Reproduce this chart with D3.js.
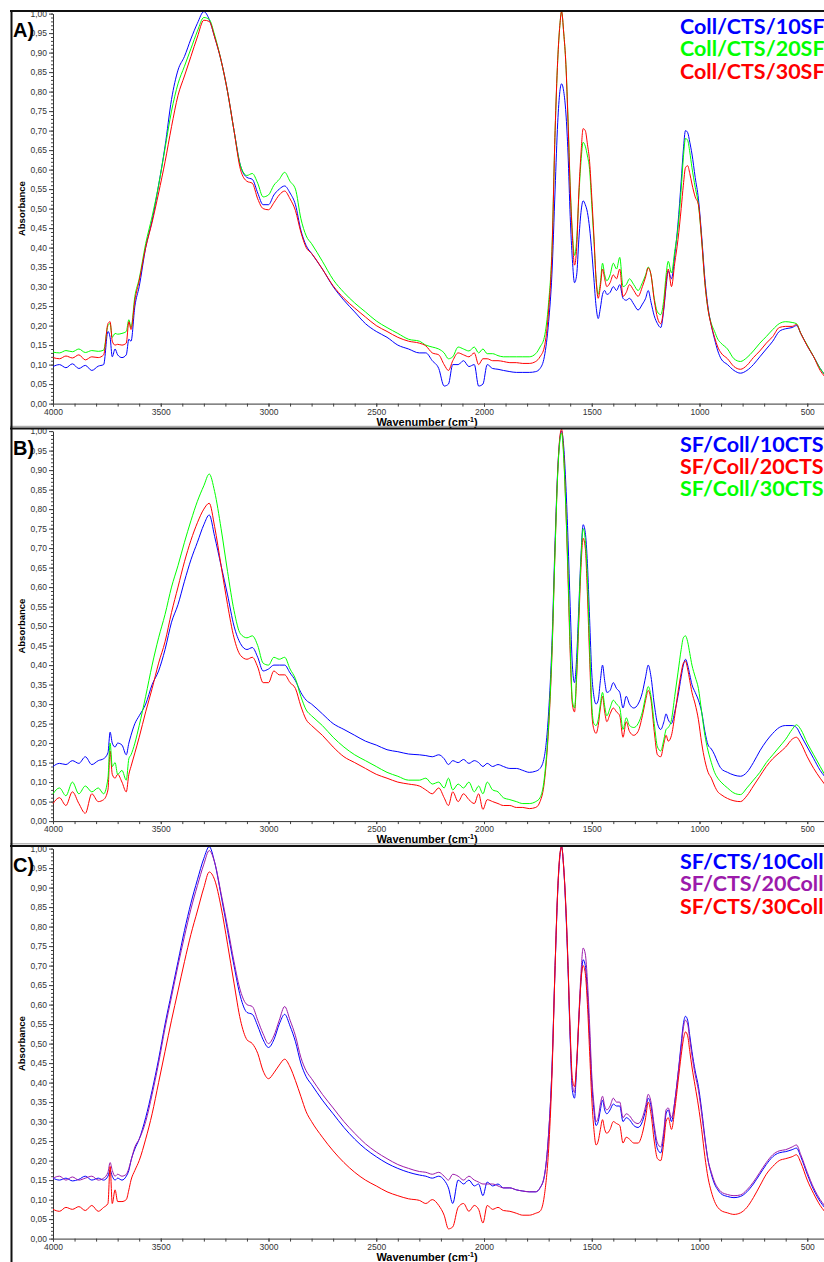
<!DOCTYPE html>
<html>
<head>
<meta charset="utf-8">
<script src="https://cdn.jsdelivr.net/npm/d3@7"></script>
<style>
  body { margin: 0; background: #fff; }
  svg { display: block; }
</style>
</head>
<body>
<div id="ftir-fig"></div>
<script>
const fig_width = 824
const fig_height = 1262

// common wavenumber grid (cm-1), denser where the spectra are noisy or peaky
const wavenumbers = [
  4000, 3970, 3940, 3910, 3880, 3850, 3820, 3790, 3765, 3745, 3735, 3725, 3712, 3700, 3680, 3660, 3648, 3638, 3620, 3600,
  3570, 3540, 3510, 3480, 3450, 3420, 3390, 3360, 3330, 3300,
  3275, 3250, 3220, 3190, 3160, 3130, 3100, 3075, 3050, 3025, 3000, 2975, 2950, 2925, 2900, 2875, 2850, 2825, 2800,
  2750, 2700, 2650, 2600, 2550, 2500, 2450, 2400, 2350, 2300,
  2270, 2240, 2210, 2185, 2165, 2145, 2120, 2095, 2070, 2045, 2025, 2005, 1985, 1960, 1935, 1910, 1880, 1850, 1820, 1790, 1760,
  1740, 1720, 1700, 1685, 1670, 1658, 1648, 1640, 1630, 1620,
  1610, 1600, 1590, 1580, 1570, 1560, 1550, 1540, 1530, 1520,
  1510, 1500, 1490, 1480, 1470, 1460, 1450, 1440, 1430, 1415,
  1400, 1385, 1370, 1355, 1340, 1325, 1305, 1285, 1265, 1250,
  1238, 1225, 1210, 1195, 1180, 1165, 1155, 1145, 1130, 1115,
  1100, 1085, 1075, 1065, 1055, 1045, 1035, 1020, 1005, 990,
  975, 960, 945, 930, 915, 900,
  870, 840, 810, 780, 750, 720, 690, 660, 630, 600, 570, 550, 530, 500, 470, 440, 420
]

// Panel A
const collCts10SF = [
  0.095, 0.100, 0.092, 0.102, 0.090, 0.098, 0.085, 0.096, 0.100, 0.185, 0.170, 0.120, 0.140, 0.125, 0.118, 0.125, 0.165, 0.160, 0.250, 0.300,
  0.40, 0.47, 0.56, 0.66, 0.78, 0.855, 0.89, 0.935, 0.975, 1.005,
  0.985, 0.94, 0.88, 0.80, 0.70, 0.61, 0.58, 0.575, 0.54, 0.51, 0.51, 0.535, 0.55, 0.558, 0.54, 0.51, 0.445, 0.405, 0.385,
  0.345, 0.30, 0.265, 0.235, 0.205, 0.185, 0.17, 0.15, 0.14, 0.13,
  0.13, 0.11, 0.09, 0.045, 0.05, 0.10, 0.10, 0.11, 0.095, 0.10, 0.045, 0.05, 0.10, 0.09, 0.088, 0.085, 0.082, 0.08, 0.08, 0.08, 0.082,
  0.09, 0.12, 0.21, 0.33, 0.55, 0.72, 0.80, 0.82, 0.80, 0.745,
  0.64, 0.48, 0.37, 0.31, 0.33, 0.42, 0.49, 0.52, 0.51, 0.49,
  0.45, 0.39, 0.32, 0.25, 0.218, 0.245, 0.28, 0.29, 0.28, 0.285,
  0.30, 0.29, 0.305, 0.27, 0.265, 0.27, 0.255, 0.24, 0.255, 0.27,
  0.29, 0.26, 0.225, 0.205, 0.195, 0.245, 0.30, 0.34, 0.32, 0.38,
  0.46, 0.57, 0.65, 0.70, 0.695, 0.67, 0.64, 0.58, 0.525, 0.43,
  0.32, 0.245, 0.20, 0.165, 0.135, 0.115,
  0.10, 0.085, 0.078, 0.085, 0.10, 0.12, 0.14, 0.16, 0.185, 0.192, 0.195, 0.20, 0.18, 0.148, 0.12, 0.09, 0.075
]
const collCts20SF = [
  0.132, 0.130, 0.136, 0.133, 0.140, 0.131, 0.136, 0.134, 0.137, 0.200, 0.205, 0.170, 0.180, 0.178, 0.180, 0.185, 0.215, 0.195, 0.275, 0.320,
  0.41, 0.48, 0.56, 0.655, 0.75, 0.82, 0.865, 0.91, 0.955, 0.99,
  0.985, 0.945, 0.88, 0.80, 0.70, 0.61, 0.585, 0.59, 0.565, 0.53, 0.535, 0.56, 0.575, 0.593, 0.57, 0.55, 0.475, 0.43, 0.41,
  0.365, 0.318, 0.285, 0.258, 0.235, 0.212, 0.195, 0.18, 0.165, 0.16,
  0.15, 0.145, 0.14, 0.13, 0.115, 0.12, 0.145, 0.14, 0.135, 0.145, 0.13, 0.14, 0.128, 0.128, 0.123, 0.12, 0.12, 0.12, 0.12, 0.12, 0.128,
  0.145, 0.17, 0.26, 0.39, 0.70, 0.88, 0.97, 1.005, 0.95, 0.87,
  0.73, 0.56, 0.44, 0.38, 0.42, 0.53, 0.62, 0.67, 0.66, 0.635,
  0.60, 0.51, 0.42, 0.32, 0.28, 0.31, 0.36, 0.33, 0.315, 0.33,
  0.36, 0.345, 0.375, 0.30, 0.305, 0.32, 0.305, 0.29, 0.31, 0.33,
  0.35, 0.33, 0.27, 0.235, 0.228, 0.27, 0.33, 0.365, 0.335, 0.39,
  0.45, 0.55, 0.63, 0.68, 0.675, 0.645, 0.605, 0.555, 0.51, 0.42,
  0.31, 0.24, 0.205, 0.185, 0.165, 0.155,
  0.14, 0.115, 0.108, 0.118, 0.135, 0.155, 0.172, 0.19, 0.205, 0.21, 0.208, 0.205, 0.18, 0.15, 0.12, 0.09, 0.075
]
const collCts30SF = [
  0.118, 0.115, 0.122, 0.117, 0.125, 0.112, 0.120, 0.118, 0.125, 0.205, 0.210, 0.160, 0.150, 0.152, 0.150, 0.155, 0.210, 0.190, 0.265, 0.315,
  0.40, 0.465, 0.54, 0.62, 0.71, 0.79, 0.84, 0.89, 0.94, 0.983,
  0.98, 0.94, 0.88, 0.80, 0.70, 0.60, 0.57, 0.565, 0.525, 0.50, 0.497, 0.515, 0.535, 0.545, 0.525, 0.495, 0.44, 0.40, 0.385,
  0.345, 0.302, 0.27, 0.245, 0.222, 0.20, 0.185, 0.17, 0.16, 0.155,
  0.148, 0.13, 0.125, 0.10, 0.085, 0.11, 0.13, 0.125, 0.12, 0.13, 0.10, 0.115, 0.115, 0.11, 0.11, 0.108, 0.105, 0.105, 0.103, 0.103, 0.108,
  0.12, 0.145, 0.24, 0.38, 0.70, 0.88, 0.97, 1.005, 0.95, 0.87,
  0.72, 0.55, 0.43, 0.355, 0.40, 0.54, 0.64, 0.705, 0.70, 0.665,
  0.62, 0.53, 0.43, 0.32, 0.27, 0.30, 0.345, 0.32, 0.30, 0.31,
  0.33, 0.32, 0.345, 0.275, 0.285, 0.305, 0.29, 0.275, 0.30, 0.325,
  0.348, 0.33, 0.265, 0.22, 0.205, 0.25, 0.31, 0.345, 0.30, 0.36,
  0.42, 0.50, 0.56, 0.605, 0.61, 0.59, 0.563, 0.53, 0.51, 0.42,
  0.31, 0.24, 0.20, 0.17, 0.145, 0.13,
  0.115, 0.095, 0.088, 0.098, 0.118, 0.135, 0.155, 0.172, 0.195, 0.198, 0.198, 0.203, 0.18, 0.148, 0.12, 0.085, 0.07
]

// Panel B
const sfColl10CTS = [
  0.14, 0.148, 0.145, 0.155, 0.148, 0.165, 0.145, 0.155, 0.16, 0.175, 0.228, 0.20, 0.19, 0.20, 0.195, 0.17, 0.20, 0.22, 0.25, 0.27,
  0.30, 0.35, 0.385, 0.44, 0.51, 0.555, 0.615, 0.67, 0.715, 0.76,
  0.785, 0.73, 0.655, 0.58, 0.50, 0.455, 0.44, 0.445, 0.42, 0.385, 0.39, 0.40, 0.40, 0.40, 0.38, 0.36, 0.33, 0.31, 0.30,
  0.275, 0.25, 0.235, 0.22, 0.205, 0.195, 0.183, 0.178, 0.172, 0.17,
  0.168, 0.165, 0.17, 0.16, 0.145, 0.155, 0.15, 0.158, 0.148, 0.155, 0.15, 0.14, 0.148, 0.14, 0.145, 0.14, 0.135, 0.135, 0.13, 0.125, 0.128,
  0.135, 0.165, 0.28, 0.45, 0.72, 0.90, 0.98, 1.0, 0.96, 0.86,
  0.72, 0.55, 0.40, 0.355, 0.42, 0.55, 0.68, 0.76, 0.74, 0.66,
  0.52, 0.38, 0.32, 0.30, 0.31, 0.36, 0.40, 0.36, 0.33, 0.335,
  0.355, 0.34, 0.33, 0.29, 0.32, 0.30, 0.29, 0.30, 0.33, 0.37,
  0.40, 0.37, 0.30, 0.25, 0.235, 0.255, 0.275, 0.26, 0.25, 0.28,
  0.32, 0.37, 0.40, 0.415, 0.40, 0.375, 0.35, 0.33, 0.31, 0.28,
  0.23, 0.195, 0.185, 0.17, 0.15, 0.135,
  0.125, 0.118, 0.115, 0.125, 0.15, 0.18, 0.205, 0.225, 0.24, 0.245, 0.245, 0.24, 0.22, 0.19, 0.16, 0.13, 0.115
]
const sfColl20CTS = [
  0.045, 0.06, 0.04, 0.075, 0.045, 0.02, 0.07, 0.05, 0.055, 0.08, 0.18, 0.12, 0.11, 0.12, 0.10, 0.075, 0.12, 0.14, 0.175, 0.215,
  0.28, 0.34, 0.405, 0.46, 0.535, 0.60, 0.665, 0.72, 0.765, 0.80,
  0.815, 0.755, 0.655, 0.555, 0.47, 0.425, 0.415, 0.42, 0.395, 0.355, 0.355, 0.385, 0.375, 0.375, 0.355, 0.34, 0.295, 0.26, 0.245,
  0.22, 0.19, 0.165, 0.15, 0.135, 0.12, 0.11, 0.10, 0.095, 0.09,
  0.08, 0.07, 0.085, 0.06, 0.04, 0.075, 0.05, 0.07, 0.055, 0.045, 0.07, 0.03, 0.055, 0.05, 0.045, 0.04, 0.04, 0.035, 0.035, 0.032, 0.035,
  0.05, 0.10, 0.24, 0.42, 0.70, 0.895, 0.985, 1.005, 0.94, 0.80,
  0.62, 0.43, 0.30, 0.28, 0.37, 0.51, 0.65, 0.725, 0.70, 0.58,
  0.42, 0.28, 0.235, 0.225, 0.245, 0.29, 0.32, 0.28, 0.255, 0.275,
  0.29, 0.28, 0.27, 0.215, 0.255, 0.23, 0.22, 0.23, 0.27, 0.31,
  0.335, 0.31, 0.23, 0.17, 0.165, 0.20, 0.22, 0.205, 0.22, 0.27,
  0.33, 0.38, 0.405, 0.41, 0.39, 0.36, 0.33, 0.30, 0.26, 0.20,
  0.155, 0.125, 0.11, 0.09, 0.075, 0.068,
  0.058, 0.052, 0.05, 0.065, 0.09, 0.115, 0.14, 0.16, 0.175, 0.19, 0.21, 0.215, 0.20, 0.165, 0.135, 0.11, 0.095
]
const sfColl30CTS = [
  0.07, 0.085, 0.065, 0.10, 0.07, 0.09, 0.075, 0.085, 0.07, 0.11, 0.20, 0.14, 0.15, 0.12, 0.13, 0.105, 0.16, 0.17, 0.20, 0.245,
  0.32, 0.40, 0.47, 0.53, 0.60, 0.655, 0.715, 0.77, 0.82, 0.86,
  0.89, 0.845, 0.75, 0.64, 0.54, 0.48, 0.47, 0.475, 0.45, 0.405, 0.40, 0.42, 0.415, 0.42, 0.39, 0.365, 0.32, 0.285, 0.27,
  0.245, 0.215, 0.19, 0.17, 0.155, 0.14, 0.125, 0.115, 0.105, 0.105,
  0.11, 0.095, 0.10, 0.085, 0.11, 0.08, 0.095, 0.085, 0.10, 0.075, 0.09, 0.07, 0.10, 0.08, 0.075, 0.06, 0.055, 0.05, 0.045, 0.045, 0.05,
  0.06, 0.11, 0.25, 0.43, 0.70, 0.89, 0.975, 0.995, 0.93, 0.80,
  0.64, 0.45, 0.31, 0.29, 0.38, 0.53, 0.67, 0.75, 0.72, 0.62,
  0.45, 0.30, 0.25, 0.245, 0.26, 0.30, 0.33, 0.295, 0.27, 0.29,
  0.31, 0.30, 0.29, 0.235, 0.265, 0.245, 0.24, 0.25, 0.28, 0.32,
  0.345, 0.32, 0.25, 0.19, 0.18, 0.21, 0.235, 0.24, 0.26, 0.32,
  0.38, 0.44, 0.47, 0.475, 0.46, 0.43, 0.40, 0.37, 0.34, 0.28,
  0.22, 0.18, 0.15, 0.125, 0.11, 0.10,
  0.085, 0.072, 0.068, 0.085, 0.105, 0.125, 0.15, 0.17, 0.19, 0.21, 0.235, 0.247, 0.235, 0.20, 0.17, 0.14, 0.12
]

// Panel C
const sfCts10Coll = [
  0.155, 0.15, 0.155, 0.148, 0.152, 0.16, 0.15, 0.155, 0.15, 0.16, 0.175, 0.16, 0.15, 0.155, 0.15, 0.16, 0.175, 0.20, 0.23, 0.255,
  0.31, 0.38, 0.46, 0.55, 0.63, 0.71, 0.79, 0.86, 0.92, 0.975,
  1.005, 0.965, 0.88, 0.79, 0.70, 0.62, 0.58, 0.575, 0.545, 0.51, 0.49, 0.51, 0.55, 0.575, 0.545, 0.505, 0.45, 0.415, 0.395,
  0.355, 0.32, 0.285, 0.255, 0.23, 0.21, 0.193, 0.18, 0.17, 0.163,
  0.16, 0.155, 0.16, 0.15, 0.13, 0.09, 0.15, 0.14, 0.15, 0.135, 0.14, 0.11, 0.145, 0.135, 0.14, 0.13, 0.13, 0.125, 0.122, 0.12, 0.12,
  0.13, 0.16, 0.27, 0.43, 0.70, 0.89, 0.98, 1.005, 0.95, 0.84,
  0.69, 0.51, 0.38, 0.36, 0.44, 0.56, 0.66, 0.715, 0.70, 0.63,
  0.52, 0.40, 0.33, 0.29, 0.30, 0.33, 0.355, 0.33, 0.32, 0.33,
  0.345, 0.34, 0.34, 0.30, 0.31, 0.305, 0.29, 0.285, 0.30, 0.33,
  0.36, 0.34, 0.28, 0.23, 0.22, 0.27, 0.32, 0.33, 0.30, 0.35,
  0.42, 0.50, 0.55, 0.57, 0.56, 0.52, 0.48, 0.43, 0.39, 0.33,
  0.26, 0.20, 0.165, 0.14, 0.125, 0.115,
  0.108, 0.105, 0.108, 0.12, 0.14, 0.165, 0.19, 0.21, 0.22, 0.223, 0.228, 0.232, 0.21, 0.165, 0.125, 0.095, 0.08
]
const sfCts20Coll = [
  0.155, 0.16, 0.15, 0.158, 0.15, 0.155, 0.16, 0.15, 0.155, 0.17, 0.195, 0.175, 0.16, 0.165, 0.16, 0.165, 0.18, 0.20, 0.235, 0.255,
  0.30, 0.37, 0.45, 0.54, 0.62, 0.70, 0.775, 0.845, 0.905, 0.96,
  0.995, 0.965, 0.885, 0.80, 0.71, 0.635, 0.60, 0.595, 0.56, 0.525, 0.50, 0.52, 0.56, 0.595, 0.56, 0.52, 0.465, 0.43, 0.41,
  0.37, 0.335, 0.30, 0.27, 0.243, 0.222, 0.205, 0.19, 0.18, 0.172,
  0.17, 0.165, 0.17, 0.16, 0.15, 0.165, 0.16, 0.15, 0.16, 0.15, 0.145, 0.14, 0.14, 0.14, 0.135, 0.13, 0.13, 0.125, 0.122, 0.12, 0.12,
  0.13, 0.16, 0.27, 0.43, 0.70, 0.89, 0.98, 1.005, 0.95, 0.845,
  0.70, 0.52, 0.395, 0.375, 0.45, 0.57, 0.68, 0.745, 0.73, 0.66,
  0.55, 0.42, 0.345, 0.30, 0.31, 0.345, 0.365, 0.34, 0.33, 0.34,
  0.36, 0.35, 0.35, 0.31, 0.32, 0.315, 0.30, 0.295, 0.31, 0.34,
  0.37, 0.35, 0.29, 0.245, 0.235, 0.28, 0.33, 0.335, 0.31, 0.35,
  0.42, 0.49, 0.54, 0.56, 0.55, 0.51, 0.47, 0.42, 0.38, 0.32,
  0.255, 0.20, 0.17, 0.145, 0.13, 0.12,
  0.113, 0.11, 0.112, 0.125, 0.145, 0.17, 0.195, 0.215, 0.225, 0.228, 0.235, 0.24, 0.215, 0.17, 0.13, 0.10, 0.085
]
const sfCts30Coll = [
  0.075, 0.07, 0.08, 0.075, 0.082, 0.072, 0.085, 0.07, 0.08, 0.09, 0.185, 0.09, 0.125, 0.095, 0.095, 0.10, 0.125, 0.15, 0.175, 0.20,
  0.255, 0.32, 0.40, 0.48, 0.56, 0.635, 0.71, 0.78, 0.84, 0.90,
  0.94, 0.92, 0.85, 0.755, 0.655, 0.56, 0.51, 0.50, 0.475, 0.43, 0.41, 0.425, 0.445, 0.46, 0.44, 0.405, 0.365, 0.325, 0.30,
  0.26, 0.225, 0.195, 0.17, 0.15, 0.135, 0.12, 0.11, 0.102, 0.098,
  0.09, 0.10, 0.085, 0.06, 0.025, 0.03, 0.08, 0.09, 0.07, 0.085, 0.075, 0.04, 0.085, 0.075, 0.08, 0.072, 0.07, 0.065, 0.06, 0.06, 0.065,
  0.07, 0.11, 0.23, 0.41, 0.70, 0.895, 0.985, 1.005, 0.95, 0.85,
  0.70, 0.53, 0.41, 0.39, 0.45, 0.56, 0.66, 0.70, 0.68, 0.60,
  0.48, 0.36, 0.28, 0.24, 0.25, 0.28, 0.305, 0.28, 0.27, 0.28,
  0.30, 0.295, 0.29, 0.245, 0.26, 0.255, 0.245, 0.245, 0.27, 0.31,
  0.35, 0.32, 0.25, 0.205, 0.20, 0.25, 0.30, 0.31, 0.28, 0.33,
  0.40, 0.47, 0.51, 0.53, 0.52, 0.48, 0.44, 0.39, 0.34, 0.28,
  0.21, 0.155, 0.12, 0.095, 0.08, 0.072,
  0.066, 0.062, 0.066, 0.08, 0.105, 0.135, 0.165, 0.185, 0.20, 0.205, 0.21, 0.215, 0.195, 0.15, 0.115, 0.085, 0.07
]

const panel_labels = ['A)', 'B)', 'C)']
const panel_series = [
  [
    {name: 'Coll/CTS/10SF', values: collCts10SF, colour: '#0000ff'},
    {name: 'Coll/CTS/20SF', values: collCts20SF, colour: '#00ff00'},
    {name: 'Coll/CTS/30SF', values: collCts30SF, colour: '#ff0000'}
  ],
  [
    {name: 'SF/Coll/10CTS', values: sfColl10CTS, colour: '#0000ff'},
    {name: 'SF/Coll/20CTS', values: sfColl20CTS, colour: '#ff0000'},
    {name: 'SF/Coll/30CTS', values: sfColl30CTS, colour: '#00ff00'}
  ],
  [
    {name: 'SF/CTS/10Coll', values: sfCts10Coll, colour: '#0000ff'},
    {name: 'SF/CTS/20Coll', values: sfCts20Coll, colour: '#9c1aab'},
    {name: 'SF/CTS/30Coll', values: sfCts30Coll, colour: '#ff0000'}
  ]
]

const y_major = d3.range(0, 1.0001, 0.05)
const y_minor = d3.range(0, 1.0001, 0.01)
const x_major = [4000, 3500, 3000, 2500, 2000, 1500, 1000, 500]
const x_minor = d3.range(4000, 499, -100)

// layout of the stacked panels
const panel_step = 417.5
const frame_top = 11
const zero_offset = 392.6
const unit_height = 390

const comma = d => d3.format('.2f')(d).replace('.', ',')

let fig = d3.select('#ftir-fig')
  .append('svg')
  .attr('width', fig_width)
  .attr('height', fig_height)

let x = d3.scaleLinear()
  .domain([4000, 400])
  .range([53, 53 + 3600 * 0.2155])

panel_series.forEach((series, i) => {
  let top = frame_top + i * panel_step
  let zero = top + zero_offset
  let y = d3.scaleLinear().domain([0, 1]).range([zero, zero - unit_height])
  let g = fig.append('g').attr('class', 'panel')

  // minor then major y ticks
  g.append('g')
    .attr('transform', 'translate(53,0)')
    .call(d3.axisLeft(y).tickValues(y_minor).tickSize(2).tickFormat(''))
    .call(a => a.select('.domain').remove())
  g.append('g')
    .attr('class', 'y-axis')
    .attr('transform', 'translate(53,0)')
    .call(d3.axisLeft(y).tickValues(y_major).tickSize(4).tickSizeOuter(0).tickPadding(2).tickFormat(comma))

  g.append('g')
    .attr('transform', `translate(0,${zero})`)
    .call(d3.axisBottom(x).tickValues(x_minor).tickSize(3).tickFormat(''))
    .call(a => a.select('.domain').remove())
  g.append('g')
    .attr('class', 'x-axis')
    .attr('transform', `translate(0,${zero})`)
    .call(d3.axisBottom(x).tickValues(x_major).tickSize(3).tickSizeOuter(0).tickPadding(2).tickFormat(d3.format('d')))

  g.selectAll('.tick line').attr('stroke', '#444')
  g.selectAll('.domain').attr('stroke', '#333')
  g.selectAll('.tick text')
    .attr('fill', '#333')
    .style('font-family', '"Liberation Sans", Arial, sans-serif')
    .style('font-size', '8.5px')

  // spectra
  let line = d3.line()
    .x(d => x(d[0]))
    .y(d => y(d[1]))
    .curve(d3.curveMonotoneX)
  g.selectAll('path.spectrum')
    .data(series)
    .join('path')
    .attr('class', 'spectrum')
    .attr('fill', 'none')
    .attr('stroke', s => s.colour)
    .attr('stroke-width', 1)
    .attr('d', s => line(wavenumbers.map((w, k) => [w, s.values[k]])))

  // axis titles
  g.append('text')
    .attr('transform', `translate(25,${(y(0) + y(1)) / 2}) rotate(-90)`)
    .attr('text-anchor', 'middle')
    .style('font-family', '"Liberation Sans", Arial, sans-serif')
    .style('font-weight', 'bold')
    .style('font-size', '9.5px')
    .text('Absorbance')

  g.append('text')
    .attr('x', 427)
    .attr('y', zero + 22)
    .attr('text-anchor', 'middle')
    .style('font-family', '"Liberation Sans", Arial, sans-serif')
    .style('font-weight', 'bold')
    .style('font-size', '11px')
    .text('Wavenumber (cm')
    .append('tspan').attr('dy', -4).style('font-size', '7px').text('-1')
    .select(function() { return this.parentNode })
    .append('tspan').attr('dy', 4).text(')')

  // panel letter
  g.append('text')
    .attr('x', 13)
    .attr('y', top + 26)
    .style('font-family', '"Liberation Sans", Arial, sans-serif')
    .style('font-weight', 'bold')
    .style('font-size', '20px')
    .text(panel_labels[i])

  // legend
  g.selectAll('text.legend')
    .data(series)
    .join('text')
    .attr('class', 'legend')
    .attr('x', 680)
    .attr('y', (s, k) => top + 23 + k * 22.3)
    .attr('fill', s => s.colour)
    .style('font-family', 'Lato, "Open Sans", sans-serif')
    .style('font-weight', 'bold')
    .style('font-size', '21.5px')
    .text(s => s.name)

  // frame line at the top of each panel
  g.append('line')
    .attr('x1', 10).attr('x2', fig_width)
    .attr('y1', top).attr('y2', top)
    .attr('stroke', '#111')
    .attr('stroke-width', 2)
  if (i > 0) {
    g.append('line')
      .attr('x1', 10).attr('x2', fig_width)
      .attr('y1', top - 2.2).attr('y2', top - 2.2)
      .attr('stroke', '#999')
      .attr('stroke-width', 1)
  }
})

// left border of the whole figure
fig.append('line')
  .attr('x1', 11.5).attr('x2', 11.5)
  .attr('y1', frame_top - 1).attr('y2', fig_height)
  .attr('stroke', '#111')
  .attr('stroke-width', 2)
</script>
</body>
</html>
